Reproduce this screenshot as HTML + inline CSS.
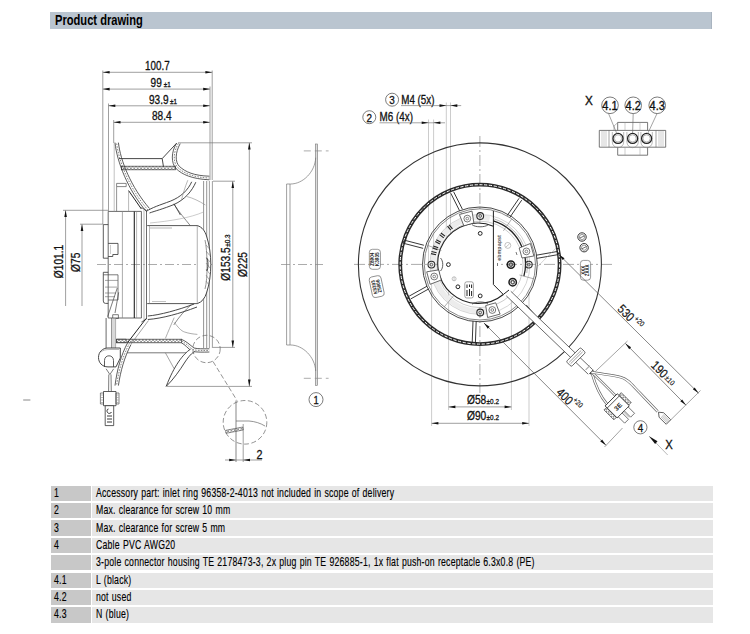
<!DOCTYPE html>
<html><head><meta charset="utf-8">
<style>
html,body{margin:0;padding:0;background:#fff;}
body{width:750px;height:634px;position:relative;overflow:hidden;font-family:"Liberation Sans",sans-serif;}
.hdr{position:absolute;left:50px;top:12px;width:661px;height:16.5px;background:#bac5d0;border-right:1px solid #a9b4c0;}
.hdr span{position:absolute;left:5px;top:-1px;font-weight:bold;font-size:14px;line-height:18px;color:#000;transform:scaleX(0.795);transform-origin:0 0;white-space:nowrap;}
.row{position:absolute;left:50.5px;width:662px;height:15.4px;}
.row .c1{position:absolute;left:0;top:0;width:40.5px;height:100%;background:#c8c8c8;}
.row .c2{position:absolute;left:41.2px;top:0;right:0;height:100%;background:#e6e6e6;}
.row span{position:absolute;top:0.3px;font-size:12.2px;line-height:15.4px;color:#000;-webkit-text-stroke:0.15px #000;word-spacing:0.6px;letter-spacing:0.3px;white-space:nowrap;transform:scaleX(0.7145);transform-origin:0 0;}
.row .t1{left:3px;}
.row .t2{left:45.1px;}
svg{position:absolute;left:0;top:0;}
</style></head><body>
<div class="hdr"><span>Product drawing</span></div>

<div class="row" style="top:485.6px"><div class="c1"></div><div class="c2"></div><span class="t1">1</span><span class="t2">Accessory part: inlet ring 96358-2-4013 not included in scope of delivery</span></div>
<div class="row" style="top:503px"><div class="c1"></div><div class="c2"></div><span class="t1">2</span><span class="t2">Max. clearance for screw 10 mm</span></div>
<div class="row" style="top:520.4px"><div class="c1"></div><div class="c2"></div><span class="t1">3</span><span class="t2">Max. clearance for screw 5 mm</span></div>
<div class="row" style="top:537.8px"><div class="c1"></div><div class="c2"></div><span class="t1">4</span><span class="t2">Cable PVC AWG20</span></div>
<div class="row" style="top:555.1px"><div class="c1"></div><div class="c2"></div><span class="t2">3-pole connector housing TE 2178473-3, 2x plug pin TE 926885-1, 1x flat push-on receptacle 6.3x0.8 (PE)</span></div>
<div class="row" style="top:572.5px"><div class="c1"></div><div class="c2"></div><span class="t1">4.1</span><span class="t2">L (black)</span></div>
<div class="row" style="top:589.9px"><div class="c1"></div><div class="c2"></div><span class="t1">4.2</span><span class="t2">not used</span></div>
<div class="row" style="top:607.2px"><div class="c1"></div><div class="c2"></div><span class="t1">4.3</span><span class="t2">N (blue)</span></div>

<svg width="750" height="480" viewBox="0 0 750 480">
<defs><pattern id="hx" width="3.4" height="3.4" patternUnits="userSpaceOnUse"><path d="M0,0 L3.4,3.4 M3.4,0 L0,3.4" stroke="#666" stroke-width="0.6"/></pattern></defs>
<g fill="none" font-family="Liberation Sans, sans-serif">
<line x1="102.80" y1="72.30" x2="212.20" y2="72.30" stroke="#777" stroke-width="0.7"/>
<path d="M102.80,72.30 L109.60,71.00 L109.60,73.60 Z" fill="#111" stroke="none"/>
<path d="M212.20,72.30 L205.40,73.60 L205.40,71.00 Z" fill="#111" stroke="none"/>
<line x1="102.80" y1="89.10" x2="210.00" y2="89.10" stroke="#777" stroke-width="0.7"/>
<path d="M102.80,89.10 L109.60,87.80 L109.60,90.40 Z" fill="#111" stroke="none"/>
<path d="M210.00,89.10 L203.20,90.40 L203.20,87.80 Z" fill="#111" stroke="none"/>
<line x1="108.50" y1="105.80" x2="210.00" y2="105.80" stroke="#777" stroke-width="0.7"/>
<path d="M108.50,105.80 L115.30,104.50 L115.30,107.10 Z" fill="#111" stroke="none"/>
<path d="M210.00,105.80 L203.20,107.10 L203.20,104.50 Z" fill="#111" stroke="none"/>
<line x1="113.70" y1="122.30" x2="210.00" y2="122.30" stroke="#777" stroke-width="0.7"/>
<path d="M113.70,122.30 L120.50,121.00 L120.50,123.60 Z" fill="#111" stroke="none"/>
<path d="M210.00,122.30 L203.20,123.60 L203.20,121.00 Z" fill="#111" stroke="none"/>
<text transform="translate(157.40,70.20) scale(0.82,1)" font-size="12" text-anchor="middle" fill="#111" font-weight="normal" stroke="#111" stroke-width="0.3">100.7</text>
<text transform="translate(150.60,87.20) scale(0.84,1)" font-size="12" text-anchor="start" fill="#111" font-weight="normal" stroke="#111" stroke-width="0.3">99</text>
<text transform="translate(163.80,87.20) scale(0.84,1)" font-size="7.5" text-anchor="start" fill="#111" font-weight="normal" stroke="#111" stroke-width="0.3">±1</text>
<text transform="translate(149.00,103.70) scale(0.84,1)" font-size="12" text-anchor="start" fill="#111" font-weight="normal" stroke="#111" stroke-width="0.3">93.9</text>
<text transform="translate(170.00,103.70) scale(0.84,1)" font-size="7.5" text-anchor="start" fill="#111" font-weight="normal" stroke="#111" stroke-width="0.3">±1</text>
<text transform="translate(161.80,120.20) scale(0.84,1)" font-size="12" text-anchor="middle" fill="#111" font-weight="normal" stroke="#111" stroke-width="0.3">88.4</text>
<line x1="102.80" y1="70.50" x2="102.80" y2="224.00" stroke="#777" stroke-width="0.7"/>
<line x1="108.50" y1="103.50" x2="108.50" y2="211.00" stroke="#777" stroke-width="0.7"/>
<line x1="113.70" y1="120.00" x2="113.70" y2="143.00" stroke="#777" stroke-width="0.7"/>
<line x1="210.00" y1="86.50" x2="210.00" y2="180.00" stroke="#777" stroke-width="0.7"/>
<line x1="212.20" y1="70.50" x2="212.20" y2="180.00" stroke="#777" stroke-width="0.7"/>
<line x1="203.60" y1="181.00" x2="203.60" y2="348.00" stroke="#666" stroke-width="0.7"/>
<line x1="206.70" y1="181.00" x2="206.70" y2="348.00" stroke="#666" stroke-width="0.7"/>
<line x1="209.40" y1="181.00" x2="209.40" y2="348.00" stroke="#888" stroke-width="0.8"/>
<line x1="212.40" y1="181.00" x2="212.40" y2="348.00" stroke="#888" stroke-width="0.8"/>
<line x1="178.00" y1="142.80" x2="252.00" y2="142.80" stroke="#777" stroke-width="0.7"/>
<line x1="213.00" y1="181.20" x2="235.00" y2="181.20" stroke="#777" stroke-width="0.7"/>
<line x1="213.00" y1="347.40" x2="235.00" y2="347.40" stroke="#777" stroke-width="0.7"/>
<line x1="167.00" y1="386.40" x2="252.00" y2="386.40" stroke="#777" stroke-width="0.7"/>
<line x1="232.80" y1="181.20" x2="232.80" y2="347.40" stroke="#777" stroke-width="0.7"/>
<path d="M232.80,181.20 L234.10,188.00 L231.50,188.00 Z" fill="#111" stroke="none"/>
<path d="M232.80,347.40 L231.50,340.60 L234.10,340.60 Z" fill="#111" stroke="none"/>
<line x1="249.30" y1="142.80" x2="249.30" y2="386.40" stroke="#777" stroke-width="0.7"/>
<path d="M249.30,142.80 L250.60,149.60 L248.00,149.60 Z" fill="#111" stroke="none"/>
<path d="M249.30,386.40 L248.00,379.60 L250.60,379.60 Z" fill="#111" stroke="none"/>
<text transform="translate(230.30,264.00) rotate(-90) scale(0.85,1)" font-size="12" text-anchor="middle" fill="#111" font-weight="normal" stroke="#111" stroke-width="0.3">Ø153.5</text>
<text transform="translate(230.30,246.80) rotate(-90) scale(0.85,1)" font-size="7.5" text-anchor="start" fill="#111" font-weight="normal" stroke="#111" stroke-width="0.3">±0.3</text>
<text transform="translate(246.60,264.50) rotate(-90) scale(0.85,1)" font-size="12" text-anchor="middle" fill="#111" font-weight="normal" stroke="#111" stroke-width="0.3">Ø225</text>
<line x1="65.60" y1="210.30" x2="65.60" y2="306.00" stroke="#777" stroke-width="0.7"/>
<path d="M65.60,210.30 L66.90,217.10 L64.30,217.10 Z" fill="#111" stroke="none"/>
<line x1="82.00" y1="224.20" x2="82.00" y2="306.00" stroke="#777" stroke-width="0.7"/>
<path d="M82.00,224.20 L83.30,231.00 L80.70,231.00 Z" fill="#111" stroke="none"/>
<line x1="63.00" y1="210.30" x2="108.00" y2="210.30" stroke="#777" stroke-width="0.7"/>
<line x1="80.00" y1="224.20" x2="103.00" y2="224.20" stroke="#777" stroke-width="0.7"/>
<text transform="translate(63.40,261.50) rotate(-90) scale(0.85,1)" font-size="12" text-anchor="middle" fill="#111" font-weight="normal" stroke="#111" stroke-width="0.3">Ø101.1</text>
<text transform="translate(80.40,262.30) rotate(-90) scale(0.85,1)" font-size="12" text-anchor="middle" fill="#111" font-weight="normal" stroke="#111" stroke-width="0.3">Ø75</text>
<line x1="97" y1="264.5" x2="212" y2="264.5" stroke="#888" stroke-width="0.7" stroke-dasharray="9,3,2,3"/>
<path d="M108.2,211.4 H141.4 V318 H108.2 Z" stroke="#444" stroke-width="0.8" fill="none" />
<line x1="122.40" y1="211.40" x2="122.40" y2="318.00" stroke="#888" stroke-width="0.7"/>
<line x1="136.60" y1="211.40" x2="136.60" y2="318.00" stroke="#888" stroke-width="0.6"/>
<path d="M108.2,224.6 H103.3 V258.2 H108.2 M108.2,272.3 H103.3 V301 Q103.3,303.4 105.5,303.4 H108.2" stroke="#333" stroke-width="0.8" fill="none" />
<path d="M108.2,243.4 H118 V254.5 H112.8 V256.5 H108.2" stroke="#333" stroke-width="0.8" fill="none" />
<line x1="110.50" y1="245.00" x2="110.50" y2="254.00" stroke="#999" stroke-width="0.5"/>
<path d="M103.3,274.8 H118 V300 H108.2" stroke="#444" stroke-width="0.7" fill="none" />
<path d="M105,280.4 H118 M105,287.1 H117 M105,293 H116 M105,296.7 H115" stroke="#666" stroke-width="0.6" fill="none" />
<path d="M117.3,287.9 L107.6,316.7 M118.7,292.3 L115,313" stroke="#444" stroke-width="0.7" fill="none" />
<line x1="134.30" y1="211.40" x2="134.30" y2="318.00" stroke="#222" stroke-width="1.1"/>
<path d="M141.4,207.5 L146.5,210.5 V319 L141.4,322" stroke="#444" stroke-width="0.8" fill="none" />
<line x1="144.00" y1="209.00" x2="144.00" y2="320.50" stroke="#888" stroke-width="0.6"/>
<path d="M147.2,225.6 H197.4 V303.6 H147.2" stroke="#444" stroke-width="0.9" fill="none" />
<line x1="201.50" y1="227.00" x2="201.50" y2="302.00" stroke="#999" stroke-width="0.6"/>
<line x1="149.50" y1="225.60" x2="149.50" y2="303.60" stroke="#888" stroke-width="0.6"/>
<path d="M150,228 H172" stroke="#888" stroke-width="0.6" fill="none" />
<path d="M152,301.5 H166" stroke="#999" stroke-width="0.6" fill="none" />
<path d="M197.4,225.6 C202,227 205,231 206.5,236 C209.5,245 210.8,255 210.8,264.5 C210.8,274 209.5,284 206.5,293 C205,298 202,302 197.4,303.6" stroke="#333" stroke-width="0.9" fill="#fff" />
<path d="M205,240 C207.5,250 208,279 205,289" stroke="#666" stroke-width="0.7" fill="none" />
<path d="M206,245 L209.5,249 M206,251 L209.8,255.5 M206,257 L210,262 M206,263 L210,268 M206,269 L209.8,274 M206,275 L209.5,280 M206,281 L209,285" stroke="#777" stroke-width="0.6" fill="none" />
<path d="M206.5,258 C208.5,259 208.5,270 206.5,271" stroke="#333" stroke-width="0.9" fill="none" />
<path d="M173.8,204.1 C179,212 185,219 190.3,225.6" stroke="#555" stroke-width="0.7" fill="none" />
<path d="M173.8,324.9 C179,317 185,310 191.3,304.6" stroke="#555" stroke-width="0.7" fill="none" />
<path d="M115,142.6 C117,162 128,190 146.3,211.4" stroke="#333" stroke-width="0.8" fill="none" />
<path d="M118.4,142.6 C120.5,161 131,187 149.5,208.5" stroke="#333" stroke-width="0.8" fill="none" />
<path d="M116.7,143.5 C118.8,161.5 129.5,188.5 147.9,210" stroke="#777" stroke-width="0.9" fill="none" stroke-dasharray="1.6,1.2"/>
<path d="M115,385.6 C117,370 121,355 127.8,342.4" stroke="#333" stroke-width="0.8" fill="none" />
<path d="M118.4,385.6 C120.5,371 124.5,357 131,344.5" stroke="#333" stroke-width="0.8" fill="none" />
<path d="M116.7,384.5 C118.8,370.5 122.8,356 129.4,343.5" stroke="#777" stroke-width="0.9" fill="none" stroke-dasharray="1.6,1.2"/>
<path d="M128.6,190.6 L141.4,209" stroke="#222" stroke-width="1.0" fill="none" />
<path d="M127.8,342.4 L146.2,318.4" stroke="#222" stroke-width="1.0" fill="none" />
<path d="M131,344 L148.5,320.5" stroke="#666" stroke-width="0.6" fill="none" />
<path d="M116.6,183.4 H126.2 V186.6 H116.6 Z" stroke="#555" stroke-width="0.7" fill="none" />
<line x1="116.60" y1="186.60" x2="116.60" y2="211.40" stroke="#666" stroke-width="0.7"/>
<line x1="128.60" y1="190.60" x2="128.60" y2="211.40" stroke="#888" stroke-width="0.6"/>
<line x1="114.20" y1="143.00" x2="114.20" y2="211.40" stroke="#999" stroke-width="0.6"/>
<path d="M116.6,339.2 H126.2 V342.6 H116.6 Z" stroke="#555" stroke-width="0.7" fill="none" />
<path d="M119,158.6 H162.2 L176.6,143.2" stroke="#333" stroke-width="0.9" fill="none" />
<line x1="162.20" y1="158.60" x2="163.50" y2="167.00" stroke="#333" stroke-width="0.9"/>
<rect x="121.4" y="166.2" width="54" height="3.6" fill="url(#hx)" stroke="#333" stroke-width="0.7"/>
<path d="M176.6,143.2 C171,152 171,163 176,168.5 C182,174.5 192,179 209.4,179.8" stroke="#333" stroke-width="0.8" fill="none" />
<path d="M180.2,143.6 C175,153 175,162 179.5,166.5 C185.5,172 194,175.7 209.4,176.2" stroke="#333" stroke-width="0.8" fill="none" />
<path d="M178.4,143.4 C173,152.5 173,162.5 177.8,167.5 C183.8,173.3 193,177.4 209.4,178" stroke="#777" stroke-width="0.9" fill="none" stroke-dasharray="1.6,1.2"/>
<path d="M191.7,181.8 C188,190 181,197 170.3,201.2 C160,205 152,207.5 146.3,211.4" stroke="#333" stroke-width="0.9" fill="none" />
<path d="M195.8,182.2 C192,191 185,199.5 174,204.5 C163,209 155,211 149.5,213" stroke="#333" stroke-width="0.9" fill="none" />
<path d="M187.8,180.2 C185,187 183,194 181.4,200.2" stroke="#888" stroke-width="0.6" fill="none" />
<path d="M186.7,196.5 C193,198 199,201 205.4,205" stroke="#888" stroke-width="0.6" fill="none" />
<path d="M174,203.8 L180.4,215" stroke="#333" stroke-width="0.8" fill="none" />
<path d="M150,223 C170,221 190,218 203.5,212" stroke="#aaa" stroke-width="0.6" fill="none" />
<path d="M147.8,316 C160,315 178,310 194.2,304" stroke="#333" stroke-width="0.9" fill="none" />
<path d="M147.8,319.5 C162,318.5 180,313.5 197,307" stroke="#333" stroke-width="0.9" fill="none" />
<path d="M174.2,317.6 C171,325 168,332 165.4,338.4" stroke="#777" stroke-width="0.6" fill="none" />
<path d="M174.2,322.4 C178,327 181,331 184.6,332 C189,333.5 193,334 197.4,334.4" stroke="#777" stroke-width="0.6" fill="none" />
<rect x="116.6" y="339.2" width="64.8" height="3.6" fill="url(#hx)" stroke="#333" stroke-width="0.7"/>
<line x1="127.00" y1="352.80" x2="194.20" y2="352.80" stroke="#555" stroke-width="0.8"/>
<path d="M181.4,339.3 C186,341 190,345 194,348 C198,349 203,348.8 209.4,348.8" stroke="#333" stroke-width="0.8" fill="none" />
<path d="M181.4,342.8 C185,344.5 188,348.5 192,351.4 C197,352.3 203,352.2 209.4,352" stroke="#333" stroke-width="0.8" fill="none" />
<path d="M181.4,341 C185.5,342.8 189,346.8 193,349.7 C197.5,350.6 203,350.5 209.4,350.4" stroke="#777" stroke-width="0.9" fill="none" stroke-dasharray="1.6,1.2"/>
<path d="M190.5,349.2 C183,354 174,366 166.2,386.4 C173,380 180,370 185,362 C189,356 192,353 194.6,351.4" stroke="#333" stroke-width="0.9" fill="#fff" />
<path d="M165.4,352.8 L174.2,368.8" stroke="#666" stroke-width="0.6" fill="none" />
<path d="M112.7,314.7 H118.4 V318.5 H112.7 Z" stroke="#444" stroke-width="0.7" fill="none" />
<line x1="106.10" y1="318.00" x2="106.10" y2="348.00" stroke="#444" stroke-width="0.8"/>
<line x1="111.80" y1="318.00" x2="111.80" y2="348.00" stroke="#444" stroke-width="0.8"/>
<rect x="112" y="318.5" width="3.6" height="29.5" fill="#d8d8d8" stroke="none"/>
<line x1="115.60" y1="318.50" x2="115.60" y2="348.00" stroke="#888" stroke-width="0.6"/>
<path d="M120.3,348 V358 L116,366.9 H108 C102,366.9 98.5,362.5 98.5,357.5 C98.5,352 102.5,348 108,348 Z" stroke="#333" stroke-width="0.9" fill="#fff" />
<path d="M101,352 C103,350 106,349.5 110,349.5 H119" stroke="#888" stroke-width="0.6" fill="none" />
<path d="M104.5,366.9 V360.5 C104.5,357.5 106.5,355.8 109,355.8 C111.5,355.8 113.5,357.5 113.5,360.5 V366.9" stroke="#333" stroke-width="0.8" fill="none" />
<path d="M106.1,368.8 L109.9,374.5 L113.7,368.8" stroke="#444" stroke-width="0.7" fill="none" />
<path d="M108.8,374.5 L108.6,391.5 M111,374.5 L111.3,391.5" stroke="#444" stroke-width="0.7" fill="none" />
<path d="M103.5,391.5 H116 V405.7 H103.5 Z" stroke="#333" stroke-width="0.8" fill="#fff" />
<path d="M100.4,393 H103.5 V404 H100.4 Z M116,393 H119 V404 H116 Z" stroke="#555" stroke-width="0.7" fill="none" />
<path d="M101,395 H103 M101,397.5 H103 M101,400 H103 M101,402.5 H103 M116.5,395 H118.5 M116.5,397.5 H118.5 M116.5,400 H118.5 M116.5,402.5 H118.5" stroke="#777" stroke-width="0.5" fill="none" />
<path d="M105.2,405.7 H113.7 V425.6 H105.2 Z" stroke="#333" stroke-width="0.8" fill="#fff" />
<path d="M108.5,409 C107,409 106.5,411 107.5,412.5 C108.5,414 111,413.5 111.5,412 M107,416 H112 M107,419 H112 M107,422 H112" stroke="#222" stroke-width="0.9" fill="none" />
<line x1="23.20" y1="400.00" x2="30.40" y2="400.00" stroke="#888" stroke-width="1.0"/>
<circle cx="206.50" cy="349.00" r="13.70" stroke="#666" stroke-width="0.7" fill="none" stroke-dasharray="5,2.5"/>
<line x1="213.00" y1="361.50" x2="237.00" y2="400.50" stroke="#666" stroke-width="0.7" stroke-dasharray="5,2.5"/>
<circle cx="245.00" cy="422.30" r="21.80" stroke="#666" stroke-width="0.7" fill="none" stroke-dasharray="5,2.5"/>
<line x1="236.00" y1="400.50" x2="236.00" y2="462.00" stroke="#555" stroke-width="0.7"/>
<line x1="243.20" y1="424.00" x2="243.20" y2="462.00" stroke="#777" stroke-width="0.7"/>
<path d="M236,421 H249 C255,421.5 260,423 265,426" stroke="#666" stroke-width="0.7" fill="none" />
<rect x="225.5" y="427" width="17.5" height="3" fill="url(#hx)" stroke="#555" stroke-width="0.6" transform="rotate(-11 243 428.5)"/>
<line x1="225.00" y1="460.00" x2="262.00" y2="460.00" stroke="#777" stroke-width="0.7"/>
<path d="M236.00,460.00 L229.20,461.30 L229.20,458.70 Z" fill="#111" stroke="none"/>
<path d="M243.20,460.00 L250.00,458.70 L250.00,461.30 Z" fill="#111" stroke="none"/>
<text transform="translate(259.50,458.60) scale(0.9,1)" font-size="12" text-anchor="middle" fill="#111" font-weight="normal" stroke="#111" stroke-width="0.3">2</text>
<rect x="315.3" y="144" width="2.4" height="241.4" fill="#ddd" stroke="#777" stroke-width="0.6"/>
<path d="M286.6,184 V345 M290,184 V345" stroke="#777" stroke-width="0.7" fill="none" />
<path d="M286.6,184 H290.5 C303,184 315,172 315.7,157.7" stroke="#777" stroke-width="0.7" fill="none" />
<path d="M286.6,345 H290.5 C303,345 315,357 315.7,371" stroke="#777" stroke-width="0.7" fill="none" />
<line x1="303.80" y1="150.90" x2="328.60" y2="150.90" stroke="#888" stroke-width="0.7" stroke-dasharray="7,4"/>
<line x1="303.80" y1="378.30" x2="328.60" y2="378.30" stroke="#888" stroke-width="0.7" stroke-dasharray="7,4"/>
<line x1="281" y1="264.5" x2="323" y2="264.5" stroke="#888" stroke-width="0.7" stroke-dasharray="9,3,2,3"/>
<circle cx="316.00" cy="399.60" r="7.00" stroke="#444" stroke-width="0.7" fill="none" />
<text transform="translate(316.00,404.00) scale(0.85,1)" font-size="11" text-anchor="middle" fill="#111" font-weight="normal" stroke="#111" stroke-width="0.3">1</text>
</g>
<g fill="none" font-family="Liberation Sans, sans-serif">
<line x1="428.50" y1="119.50" x2="428.50" y2="262.00" stroke="#aaa" stroke-width="0.6"/>
<line x1="433.60" y1="119.50" x2="433.60" y2="262.00" stroke="#aaa" stroke-width="0.6"/>
<line x1="446.30" y1="102.50" x2="446.30" y2="262.00" stroke="#aaa" stroke-width="0.6"/>
<line x1="450.50" y1="102.50" x2="450.50" y2="262.00" stroke="#aaa" stroke-width="0.6"/>
<line x1="431.60" y1="267.00" x2="431.60" y2="426.00" stroke="#aaa" stroke-width="0.6"/>
<line x1="448.60" y1="267.00" x2="448.60" y2="410.00" stroke="#aaa" stroke-width="0.6"/>
<line x1="511.40" y1="296.00" x2="511.40" y2="410.00" stroke="#aaa" stroke-width="0.6"/>
<line x1="529.00" y1="292.00" x2="529.00" y2="426.00" stroke="#aaa" stroke-width="0.6"/>
<line x1="354" y1="264.4" x2="612" y2="264.4" stroke="#888" stroke-width="0.7" stroke-dasharray="11,3,2,3"/>
<line x1="479.9" y1="136" x2="479.9" y2="393" stroke="#888" stroke-width="0.7" stroke-dasharray="11,3,2,3"/>
<circle cx="479.90" cy="264.40" r="121.50" stroke="#333" stroke-width="1.1" fill="none" />
<circle cx="479.90" cy="264.40" r="79.70" stroke="#2a2a2a" stroke-width="3.8" fill="none" />
<circle cx="479.90" cy="264.40" r="79.70" stroke="#fff" stroke-width="1.0" fill="none" stroke-dasharray="3.2,1.6"/>
<line x1="450.77" y1="193.22" x2="459.57" y2="210.72" stroke="#222" stroke-width="0.9"/>
<line x1="453.63" y1="191.78" x2="462.43" y2="209.28" stroke="#222" stroke-width="0.9"/>
<line x1="519.08" y1="198.29" x2="507.18" y2="215.59" stroke="#222" stroke-width="0.9"/>
<line x1="521.72" y1="200.11" x2="509.82" y2="217.41" stroke="#222" stroke-width="0.9"/>
<line x1="557.72" y1="251.42" x2="536.22" y2="255.22" stroke="#222" stroke-width="0.9"/>
<line x1="558.28" y1="254.58" x2="536.78" y2="258.38" stroke="#222" stroke-width="0.9"/>
<line x1="402.60" y1="243.05" x2="423.10" y2="248.35" stroke="#222" stroke-width="0.9"/>
<line x1="403.40" y1="239.95" x2="423.90" y2="245.25" stroke="#222" stroke-width="0.9"/>
<line x1="410.78" y1="298.90" x2="428.78" y2="288.90" stroke="#222" stroke-width="0.9"/>
<line x1="409.22" y1="296.10" x2="427.22" y2="286.10" stroke="#222" stroke-width="0.9"/>
<line x1="475.40" y1="343.06" x2="476.20" y2="321.06" stroke="#222" stroke-width="0.9"/>
<line x1="472.20" y1="342.94" x2="473.00" y2="320.94" stroke="#222" stroke-width="0.9"/>
<line x1="540.20" y1="320.95" x2="526.20" y2="304.95" stroke="#222" stroke-width="0.9"/>
<line x1="537.80" y1="323.05" x2="523.80" y2="307.05" stroke="#222" stroke-width="0.9"/>
<path d="M489.63,218.62 A46.8,46.8 0 1 0 494.36,308.91" stroke="#ececec" stroke-width="5.0" fill="none" />
<circle cx="479.90" cy="264.40" r="57.40" stroke="#333" stroke-width="0.9" fill="none" />
<circle cx="479.90" cy="264.40" r="55.60" stroke="#555" stroke-width="0.7" fill="none" />
<circle cx="479.90" cy="264.40" r="50.00" stroke="#aaa" stroke-width="0.5" fill="none" />
<circle cx="479.90" cy="264.40" r="43.20" stroke="#999" stroke-width="0.5" fill="none" />
<path d="M493.4,226.2 A40.2,40.2 0 1 0 503.3,294.5" stroke="#222" stroke-width="1.1" fill="#fff" />
<path d="M472,224.6 C475,227.5 485,227.5 488,224.8" stroke="#333" stroke-width="0.8" fill="none" />
<path d="M472,304.2 C475,301.3 485,301.3 488,304" stroke="#333" stroke-width="0.8" fill="none" />
<path d="M440.5,258 C443.5,261 443.5,268 440.5,271" stroke="#333" stroke-width="0.8" fill="none" />
<path d="M493.4,211 V284.5 L503.3,294.5 L509,290" stroke="#222" stroke-width="1.0" fill="none" />
<path d="M493.4,220.9 A45.5,45.5 0 0 1 523.9,276.2" stroke="#222" stroke-width="1.3" fill="none" />
<path d="M493.4,218.6 A47.6,47.6 0 0 1 526.8,273" stroke="#888" stroke-width="0.6" fill="none" />
<text transform="translate(501.20,248.00) rotate(-90) scale(0.9,1)" font-size="6" text-anchor="middle" fill="#555" font-weight="bold" >ebmpapst</text>
<circle cx="507.80" cy="245.40" r="3.00" stroke="#888" stroke-width="0.5" fill="none" />
<line x1="506.00" y1="247.00" x2="509.60" y2="243.80" stroke="#888" stroke-width="0.5"/>
<line x1="497.50" y1="263.00" x2="497.50" y2="266.00" stroke="#555" stroke-width="0.8"/>
<line x1="516.00" y1="252.00" x2="517.00" y2="255.00" stroke="#555" stroke-width="0.8"/>
<line x1="453.55" y1="295.81" x2="444.16" y2="306.99" stroke="#777" stroke-width="0.6"/>
<line x1="441.37" y1="250.38" x2="427.65" y2="245.38" stroke="#777" stroke-width="0.6"/>
<line x1="465.88" y1="225.87" x2="460.88" y2="212.15" stroke="#777" stroke-width="0.6"/>
<line x1="503.42" y1="230.81" x2="511.79" y2="218.86" stroke="#777" stroke-width="0.6"/>
<line x1="519.50" y1="275.01" x2="533.61" y2="278.79" stroke="#777" stroke-width="0.6"/>
<path d="M463.9,225.8 L459.4,214.5 L472.0,211.1 L473.9,223.0 Z" stroke="#444" stroke-width="0.8" fill="#fff" />
<circle cx="467.30" cy="218.60" r="3.40" stroke="#555" stroke-width="0.8" fill="none" />
<circle cx="467.30" cy="218.60" r="1.36" stroke="#555" stroke-width="0.7" fill="none" />
<path d="M519.2,248.0 L530.4,243.5 L533.9,256.0 L522.0,258.0 Z" stroke="#444" stroke-width="0.8" fill="#fff" />
<circle cx="526.40" cy="251.40" r="3.40" stroke="#555" stroke-width="0.8" fill="none" />
<circle cx="526.40" cy="251.40" r="1.36" stroke="#555" stroke-width="0.7" fill="none" />
<path d="M441.3,280.0 L430.1,284.3 L426.7,271.8 L438.7,269.9 Z" stroke="#444" stroke-width="0.8" fill="#fff" />
<circle cx="434.20" cy="276.50" r="3.40" stroke="#555" stroke-width="0.8" fill="none" />
<circle cx="434.20" cy="276.50" r="1.36" stroke="#555" stroke-width="0.7" fill="none" />
<path d="M495.7,302.8 L500.1,314.1 L487.6,317.5 L485.7,305.6 Z" stroke="#444" stroke-width="0.8" fill="#fff" />
<circle cx="492.30" cy="310.00" r="3.40" stroke="#555" stroke-width="0.8" fill="none" />
<circle cx="492.30" cy="310.00" r="1.36" stroke="#555" stroke-width="0.7" fill="none" />
<circle cx="480.20" cy="216.00" r="3.40" stroke="#2a2a2a" stroke-width="1.1" fill="none" />
<circle cx="480.20" cy="216.00" r="1.36" stroke="#2a2a2a" stroke-width="0.7" fill="none" />
<circle cx="431.40" cy="264.60" r="3.40" stroke="#2a2a2a" stroke-width="1.1" fill="none" />
<circle cx="431.40" cy="264.60" r="1.36" stroke="#2a2a2a" stroke-width="0.7" fill="none" />
<circle cx="480.20" cy="312.50" r="3.40" stroke="#2a2a2a" stroke-width="1.1" fill="none" />
<circle cx="480.20" cy="312.50" r="1.36" stroke="#2a2a2a" stroke-width="0.7" fill="none" />
<circle cx="528.80" cy="264.60" r="3.40" stroke="#2a2a2a" stroke-width="1.1" fill="none" />
<circle cx="528.80" cy="264.60" r="1.36" stroke="#2a2a2a" stroke-width="0.7" fill="none" />
<circle cx="510.90" cy="264.60" r="3.70" stroke="#1a1a1a" stroke-width="1.5" fill="none" />
<circle cx="510.90" cy="264.60" r="1.48" stroke="#1a1a1a" stroke-width="0.7" fill="none" />
<circle cx="510.90" cy="264.60" r="2.00" stroke="#444" stroke-width="0.8" fill="none" />
<circle cx="512.70" cy="282.20" r="3.70" stroke="#1a1a1a" stroke-width="1.5" fill="none" />
<circle cx="512.70" cy="282.20" r="1.48" stroke="#1a1a1a" stroke-width="0.7" fill="none" />
<circle cx="512.70" cy="282.20" r="2.00" stroke="#444" stroke-width="0.8" fill="none" />
<circle cx="480.20" cy="233.40" r="1.90" stroke="#222" stroke-width="1.0" fill="none" />
<circle cx="448.40" cy="264.60" r="1.90" stroke="#222" stroke-width="1.0" fill="none" />
<circle cx="480.20" cy="295.90" r="1.90" stroke="#222" stroke-width="1.0" fill="none" />
<circle cx="457.90" cy="286.80" r="1.90" stroke="#222" stroke-width="1.0" fill="none" />
<circle cx="454.10" cy="278.80" r="2.00" stroke="#999" stroke-width="0.6" fill="none" />
<line x1="454.10" y1="276.80" x2="454.10" y2="280.80" stroke="#999" stroke-width="0.5"/>
<rect x="464.8" y="281.8" width="8.6" height="16.2" rx="2" fill="none" stroke="#666" stroke-width="0.6"/>
<path d="M467,284.5 V288 M467,290 V296 M469.5,284.5 V287 M469.5,289 V296 M471.6,284.5 V288 M471.6,291 V296" stroke="#222" stroke-width="1.0" fill="none" />
<g transform="translate(450.0,227.5) rotate(231.0)"><rect x="-2.6" y="-1.6" width="5.2" height="1.1" fill="#222"/><rect x="-2.6" y="0.5" width="5.2" height="1.1" fill="#222"/></g>
<g transform="translate(442.3,235.4) rotate(217.6)"><rect x="-2.6" y="-1.6" width="5.2" height="1.1" fill="#222"/><rect x="-2.6" y="0.5" width="5.2" height="1.1" fill="#222"/></g>
<g transform="translate(438.1,241.9) rotate(208.3)"><rect x="-2.6" y="-1.6" width="5.2" height="1.1" fill="#222"/><rect x="-2.6" y="0.5" width="5.2" height="1.1" fill="#222"/></g>
<g transform="translate(435.4,247.9) rotate(200.3)"><rect x="-2.6" y="-1.6" width="5.2" height="1.1" fill="#222"/><rect x="-2.6" y="0.5" width="5.2" height="1.1" fill="#222"/></g>
<g transform="translate(433.8,253.2) rotate(193.7)"><rect x="-2.6" y="-1.6" width="5.2" height="1.1" fill="#222"/><rect x="-2.6" y="0.5" width="5.2" height="1.1" fill="#222"/></g>
<g transform="translate(374.9,259.3) rotate(0)"><rect x="-5.55" y="-10.0" width="11.1" height="20" rx="3" fill="#fff" stroke="#555" stroke-width="0.6"/><text transform="translate(-2.30,0) rotate(-90) scale(0.9,1)" font-size="5.2" font-weight="bold" text-anchor="middle" dominant-baseline="central" fill="#222">Z8904</text><text transform="translate(2.30,0) rotate(-90) scale(0.9,1)" font-size="5.2" font-weight="bold" text-anchor="middle" dominant-baseline="central" fill="#222">K3935</text></g>
<g transform="translate(376.7,286.6) rotate(-12)"><rect x="-6.0" y="-10.5" width="12" height="21" rx="3" fill="#fff" stroke="#555" stroke-width="0.6"/><text transform="translate(-2.30,0) rotate(-90) scale(0.9,1)" font-size="5.2" font-weight="bold" text-anchor="middle" dominant-baseline="central" fill="#222">K8393</text><text transform="translate(2.30,0) rotate(-90) scale(0.9,1)" font-size="5.2" font-weight="bold" text-anchor="middle" dominant-baseline="central" fill="#222">Z5806</text></g>
<g transform="translate(585.5,270.3) rotate(0)"><rect x="-5.1" y="-9.9" width="10.2" height="19.8" rx="3" fill="#fff" stroke="#555" stroke-width="0.6"/><text transform="translate(-2.30,0) rotate(-90) scale(0.9,1)" font-size="5" font-weight="bold" text-anchor="middle" dominant-baseline="central" fill="#222">XXX</text><text transform="translate(2.30,0) rotate(-90) scale(0.9,1)" font-size="5" font-weight="bold" text-anchor="middle" dominant-baseline="central" fill="#222">ZXXX</text></g>
<circle cx="582.00" cy="237.00" r="4.20" stroke="#333" stroke-width="1.0" fill="none" />
<circle cx="582.00" cy="237.00" r="2.60" stroke="#555" stroke-width="0.6" fill="none" />
<line x1="579.50" y1="238.20" x2="584.50" y2="235.80" stroke="#333" stroke-width="0.7"/>
<circle cx="584.10" cy="247.70" r="4.20" stroke="#333" stroke-width="1.0" fill="none" />
<circle cx="584.10" cy="247.70" r="2.60" stroke="#555" stroke-width="0.6" fill="none" />
<line x1="581.60" y1="248.90" x2="586.60" y2="246.50" stroke="#333" stroke-width="0.7"/>
<path d="M506.23,295.75 L588.23,374.25 L592.77,369.75 L510.77,291.25 Z" stroke="none" stroke-width="0" fill="#fff" />
<line x1="506.23" y1="295.75" x2="588.23" y2="374.25" stroke="#444" stroke-width="0.8"/>
<line x1="510.77" y1="291.25" x2="592.77" y2="369.75" stroke="#444" stroke-width="0.8"/>
<g transform="translate(575.9,357.1) rotate(-44.7)"><rect x="-10" y="-3.6" width="20" height="7.2" rx="1.5" fill="#fff" stroke="#444" stroke-width="0.8"/><path d="M-8.5,-1 H8.5 M-8.5,1 H8.5" stroke="#666" stroke-width="0.6"/></g>
<g transform="translate(588.8,368.8) rotate(45.3)"><line x1="-1.5" y1="-3" x2="-1.5" y2="3" stroke="#aaa" stroke-width="1.2"/></g>
<path d="M589.5,373.5 L593.2,370 L592.2,374.6 Z" stroke="#222" stroke-width="0.6" fill="#222" />
<path d="M591.6,372.1 C595,384 599,395 607,404.1" stroke="#666" stroke-width="2.6" fill="none" />
<path d="M591.6,372.1 C595,384 599,395 607,404.1" stroke="#fff" stroke-width="1.3" fill="none" />
<path d="M591.6,372.1 C600,380 608,388 615.4,395.6" stroke="#666" stroke-width="2.6" fill="none" />
<path d="M591.6,372.1 C600,380 608,388 615.4,395.6" stroke="#fff" stroke-width="1.3" fill="none" />
<path d="M591.6,372.1 C600,374 612,375 621,377.3 C628,379 632,385 640,393 L657.6,411.5" stroke="#666" stroke-width="2.6" fill="none" />
<path d="M591.6,372.1 C600,374 612,375 621,377.3 C628,379 632,385 640,393 L657.6,411.5" stroke="#fff" stroke-width="1.3" fill="none" />
<g transform="translate(611.2,399.85) rotate(45)"><rect x="2" y="8.6" width="14" height="3.6" fill="url(#hx)" stroke="#444" stroke-width="0.7"/><rect x="2" y="-12.2" width="14" height="3.6" fill="url(#hx)" stroke="#444" stroke-width="0.7"/><rect x="0" y="-8.6" width="17" height="17.2" fill="#fff" stroke="#333" stroke-width="0.9"/><line x1="3" y1="-8.6" x2="3" y2="8.6" stroke="#333" stroke-width="0.8"/><rect x="17" y="-7" width="9" height="5.5" fill="#fff" stroke="#444" stroke-width="0.7"/><rect x="17" y="1.5" width="9" height="5.5" fill="#fff" stroke="#444" stroke-width="0.7"/><line x1="17" y1="-0.2" x2="25" y2="-0.2" stroke="#666" stroke-width="0.5"/><text x="9.5" y="0" transform="rotate(-90 9.5 0)" font-size="6.5" font-weight="bold" text-anchor="middle" dominant-baseline="central" fill="#222">3E</text></g>
<g transform="translate(664.2,417.8) rotate(44.5)"><path d="M-8,0 L-4,-3.2 H6 V3.2 H-4 Z" fill="#fff" stroke="#444" stroke-width="0.8"/><path d="M-3,-1.5 H6 M-3,0 H6 M-3,1.5 H6" stroke="#777" stroke-width="0.5"/></g>
<line x1="558.80" y1="254.40" x2="698.60" y2="393.20" stroke="#555" stroke-width="0.7"/>
<path d="M558.80,254.40 L564.54,258.27 L562.71,260.11 Z" fill="#111" stroke="none"/>
<path d="M698.60,393.20 L692.86,389.33 L694.69,387.49 Z" fill="#111" stroke="none"/>
<line x1="537.20" y1="267.00" x2="556.00" y2="248.00" stroke="#aaa" stroke-width="0.5"/>
<text transform="translate(626.40,312.50) rotate(44.5) scale(0.85,1)" font-size="12.5" text-anchor="middle" dominant-baseline="central" fill="#111" font-weight="normal" stroke="#111" stroke-width="0.2">530</text>
<text transform="translate(639.50,321.20) rotate(44.5) scale(0.85,1)" font-size="7.5" text-anchor="middle" dominant-baseline="central" fill="#111" font-weight="normal" stroke="#111" stroke-width="0.15">+20</text>
<line x1="625.40" y1="343.40" x2="686.00" y2="405.20" stroke="#555" stroke-width="0.7"/>
<path d="M625.40,343.40 L631.09,347.35 L629.23,349.17 Z" fill="#111" stroke="none"/>
<path d="M686.00,405.20 L680.31,401.25 L682.17,399.43 Z" fill="#111" stroke="none"/>
<line x1="595.40" y1="371.50" x2="627.50" y2="341.00" stroke="#666" stroke-width="0.6"/>
<line x1="670.30" y1="420.30" x2="700.50" y2="390.50" stroke="#666" stroke-width="0.6"/>
<text transform="translate(659.90,368.90) rotate(45) scale(0.85,1)" font-size="12.5" text-anchor="middle" dominant-baseline="central" fill="#111" font-weight="normal" stroke="#111" stroke-width="0.2">190</text>
<text transform="translate(669.80,380.30) rotate(45) scale(0.85,1)" font-size="7.5" text-anchor="middle" dominant-baseline="central" fill="#111" font-weight="normal" stroke="#111" stroke-width="0.15">±10</text>
<line x1="483.90" y1="322.90" x2="606.00" y2="445.30" stroke="#555" stroke-width="0.7"/>
<path d="M483.90,322.90 L489.62,326.80 L487.78,328.63 Z" fill="#111" stroke="none"/>
<path d="M606.00,445.30 L600.28,441.40 L602.12,439.57 Z" fill="#111" stroke="none"/>
<line x1="604.50" y1="447.00" x2="622.50" y2="428.00" stroke="#666" stroke-width="0.6"/>
<text transform="translate(565.20,396.00) rotate(45) scale(0.85,1)" font-size="12.5" text-anchor="middle" dominant-baseline="central" fill="#111" font-weight="normal" stroke="#111" stroke-width="0.2">400</text>
<text transform="translate(578.10,402.50) rotate(45) scale(0.85,1)" font-size="7.5" text-anchor="middle" dominant-baseline="central" fill="#111" font-weight="normal" stroke="#111" stroke-width="0.15">+20</text>
<circle cx="640.40" cy="427.30" r="6.60" stroke="#444" stroke-width="0.7" fill="none" />
<text transform="translate(640.40,431.60) scale(0.9,1)" font-size="11" text-anchor="middle" fill="#111" font-weight="normal" stroke="#111" stroke-width="0.3">4</text>
<line x1="655.30" y1="442.20" x2="667.70" y2="455.00" stroke="#888" stroke-width="0.6"/>
<path d="M648.80,436.10 L657.50,441.35 L655.12,444.05 Z" fill="#111" stroke="none"/>
<text transform="translate(669.00,448.70) scale(0.9,1)" font-size="12.5" text-anchor="middle" fill="#111" font-weight="normal" stroke="#111" stroke-width="0.3">X</text>
<line x1="448.60" y1="406.90" x2="511.40" y2="406.90" stroke="#777" stroke-width="0.7"/>
<path d="M448.60,406.90 L455.40,405.60 L455.40,408.20 Z" fill="#111" stroke="none"/>
<path d="M511.40,406.90 L504.60,408.20 L504.60,405.60 Z" fill="#111" stroke="none"/>
<line x1="431.60" y1="423.30" x2="529.00" y2="423.30" stroke="#777" stroke-width="0.7"/>
<path d="M431.60,423.30 L438.40,422.00 L438.40,424.60 Z" fill="#111" stroke="none"/>
<path d="M529.00,423.30 L522.20,424.60 L522.20,422.00 Z" fill="#111" stroke="none"/>
<text transform="translate(467.00,403.80) scale(0.85,1)" font-size="12" text-anchor="start" fill="#111" font-weight="normal" stroke="#111" stroke-width="0.3">Ø58</text>
<text transform="translate(486.60,403.80) scale(0.85,1)" font-size="7.5" text-anchor="start" fill="#111" font-weight="normal" stroke="#111" stroke-width="0.3">±0.2</text>
<text transform="translate(467.00,420.30) scale(0.85,1)" font-size="12" text-anchor="start" fill="#111" font-weight="normal" stroke="#111" stroke-width="0.3">Ø90</text>
<text transform="translate(486.60,420.30) scale(0.85,1)" font-size="7.5" text-anchor="start" fill="#111" font-weight="normal" stroke="#111" stroke-width="0.3">±0.2</text>
<circle cx="392.10" cy="99.70" r="6.50" stroke="#444" stroke-width="0.7" fill="none" />
<text transform="translate(392.10,104.00) scale(0.9,1)" font-size="11" text-anchor="middle" fill="#111" font-weight="normal" stroke="#111" stroke-width="0.3">3</text>
<text transform="translate(401.20,104.00) scale(0.82,1)" font-size="12" text-anchor="start" fill="#111" font-weight="normal" stroke="#111" stroke-width="0.3">M4 (5x)</text>
<line x1="401.00" y1="105.60" x2="461.20" y2="105.60" stroke="#666" stroke-width="0.6"/>
<path d="M446.30,105.60 L439.50,106.90 L439.50,104.30 Z" fill="#111" stroke="none"/>
<path d="M450.50,105.60 L457.30,104.30 L457.30,106.90 Z" fill="#111" stroke="none"/>
<circle cx="369.30" cy="117.20" r="6.50" stroke="#444" stroke-width="0.7" fill="none" />
<text transform="translate(369.30,121.50) scale(0.9,1)" font-size="11" text-anchor="middle" fill="#111" font-weight="normal" stroke="#111" stroke-width="0.3">2</text>
<text transform="translate(379.60,121.30) scale(0.82,1)" font-size="12" text-anchor="start" fill="#111" font-weight="normal" stroke="#111" stroke-width="0.3">M6 (4x)</text>
<line x1="379.50" y1="122.80" x2="445.00" y2="122.80" stroke="#666" stroke-width="0.6"/>
<path d="M428.50,122.80 L421.70,124.10 L421.70,121.50 Z" fill="#111" stroke="none"/>
<path d="M433.60,122.80 L440.40,121.50 L440.40,124.10 Z" fill="#111" stroke="none"/>
<text transform="translate(588.90,104.60) scale(0.9,1)" font-size="13" text-anchor="middle" fill="#111" font-weight="normal" stroke="#111" stroke-width="0.35">X</text>
<circle cx="610.00" cy="105.30" r="8.30" stroke="#444" stroke-width="0.7" fill="none" />
<text transform="translate(610.00,109.60) scale(0.92,1)" font-size="12" text-anchor="middle" fill="#111" font-weight="normal" stroke="#111" stroke-width="0.35">4.1</text>
<circle cx="633.20" cy="105.30" r="8.30" stroke="#444" stroke-width="0.7" fill="none" />
<text transform="translate(633.20,109.60) scale(0.92,1)" font-size="12" text-anchor="middle" fill="#111" font-weight="normal" stroke="#111" stroke-width="0.35">4.2</text>
<circle cx="657.20" cy="105.30" r="8.30" stroke="#444" stroke-width="0.7" fill="none" />
<text transform="translate(657.20,109.60) scale(0.92,1)" font-size="12" text-anchor="middle" fill="#111" font-weight="normal" stroke="#111" stroke-width="0.35">4.3</text>
<path d="M599.3,130.4 H665.7 V147.2 H599.3 Z" stroke="#555" stroke-width="0.8" fill="none" />
<path d="M617.7,130.4 V122.4 H647.6 V130.4 M617.7,147.2 V155.2 H647.6 V147.2" stroke="#555" stroke-width="0.8" fill="none" />
<path d="M612.3,132 V142 A5.7,5.7 0 0 0 623.7,142 V132 M626.9,132 V142 A5.7,5.7 0 0 0 638.3,142 V132 M640.9,132 V142 A5.7,5.7 0 0 0 652.3,142 V132" stroke="#888" stroke-width="0.6" fill="none" />
<path d="M618,122.4 L614,126 V130.4" stroke="#888" stroke-width="0.6" fill="none" />
<path d="M602,131 V146.5 M604,131 V146.5 M606,131 V146.5 M659,131 V146.5 M661,131 V146.5 M663,131 V146.5" stroke="#999" stroke-width="0.5" fill="none" />
<path d="M609,130.4 V147.2 M656,130.4 V147.2" stroke="#666" stroke-width="0.6" fill="none" />
<path d="M625,122.4 V130.4 M640,122.4 V130.4 M625,147.2 V155.2 M640,147.2 V155.2" stroke="#999" stroke-width="0.5" fill="none" />
<circle cx="618.00" cy="138.40" r="5.00" stroke="#222" stroke-width="1.3" fill="none" />
<circle cx="618.00" cy="138.40" r="3.60" stroke="#888" stroke-width="0.6" fill="none" />
<circle cx="632.60" cy="138.40" r="5.00" stroke="#222" stroke-width="1.3" fill="none" />
<circle cx="632.60" cy="138.40" r="3.60" stroke="#888" stroke-width="0.6" fill="none" />
<circle cx="646.60" cy="138.40" r="5.00" stroke="#222" stroke-width="1.3" fill="none" />
<circle cx="646.60" cy="138.40" r="3.60" stroke="#888" stroke-width="0.6" fill="none" />
<line x1="608.50" y1="113.50" x2="617.00" y2="134.00" stroke="#666" stroke-width="0.6"/>
<line x1="633.20" y1="113.60" x2="632.60" y2="133.40" stroke="#666" stroke-width="0.6"/>
<line x1="657.00" y1="113.60" x2="647.50" y2="134.00" stroke="#666" stroke-width="0.6"/>
</g>
</svg>
</body></html>
